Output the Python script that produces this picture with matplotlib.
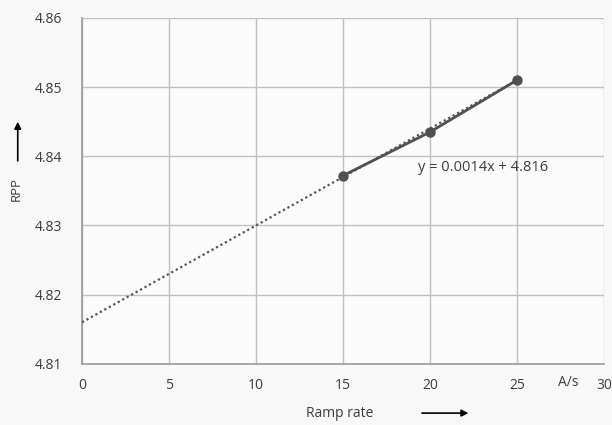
import matplotlib
matplotlib.use("Agg")
import matplotlib.pyplot as plt
import numpy as np

# measured points
ramp_rate = [15, 20, 25]
rpp = [4.8372, 4.8435, 4.8510]

# linear trendline shown on the chart
slope = 0.0014
intercept = 4.816
trend_x = [0, 25]

x_ticks = [0, 5, 10, 15, 20, 25, 30]
y_ticks = [4.81, 4.82, 4.83, 4.84, 4.85, 4.86]

plt.rcParams['font.family'] = ['Open Sans', 'DejaVu Sans']

fig = plt.figure(figsize=(6.12, 4.25), dpi=100, facecolor='#f8f8f8')
ax = fig.add_axes([0.134, 0.144, 0.853, 0.814])
ax.set_facecolor('#fbfbfb')

tx = np.array(trend_x)
ax.plot(tx, slope * tx + intercept, linestyle=(0, (1, 1.3)), color='#555555', lw=1.6, zorder=3)
ax.plot(ramp_rate, rpp, '-o', color='#505050', lw=2.0, ms=6.5, zorder=4)

ax.set_xlim(0, 30)
ax.set_ylim(4.81, 4.86)
ax.set_xticks(x_ticks)
ax.set_yticks(y_ticks)
ax.set_xticklabels([str(v) for v in x_ticks])
ax.set_yticklabels([f"{v:.2f}" for v in y_ticks])
ax.tick_params(length=0, labelsize=10, colors='#3c3c3c')
ax.tick_params(axis='x', pad=10)
ax.tick_params(axis='y', pad=14)
ax.grid(True, color='#c0c0c0', lw=1.0)
ax.set_axisbelow(True)
for side in ['top', 'right']:
    ax.spines[side].set_visible(False)
for side in ['left', 'bottom']:
    ax.spines[side].set_color('#9a9a9a')
    ax.spines[side].set_linewidth(1.2)

ax.text(19.3, 4.8383, "y = 0.0014x + 4.816", fontsize=10.5, color='#3c3c3c', va='center')

# axis labels with arrows, placed in figure coords
fig.text(0.555, 0.028, "Ramp rate", fontsize=10, color='#3c3c3c', ha='center', va='center')
ax.annotate("", xy=(0.77, 0.028), xytext=(0.685, 0.028), xycoords='figure fraction',
            textcoords='figure fraction', annotation_clip=False,
            arrowprops=dict(arrowstyle='-|>', color='black', lw=1.2, mutation_scale=10))
fig.text(0.928, 0.1, "A/s", fontsize=10, color='#3c3c3c', ha='center', va='center')
fig.text(0.026, 0.555, "RPP", fontsize=9.5, color='#3c3c3c', rotation=90, ha='center', va='center')
ax.annotate("", xy=(0.029, 0.72), xytext=(0.029, 0.615), xycoords='figure fraction',
            textcoords='figure fraction', annotation_clip=False,
            arrowprops=dict(arrowstyle='-|>', color='black', lw=1.2, mutation_scale=10))

fig.savefig("out.png", dpi=100, facecolor=fig.get_facecolor())
